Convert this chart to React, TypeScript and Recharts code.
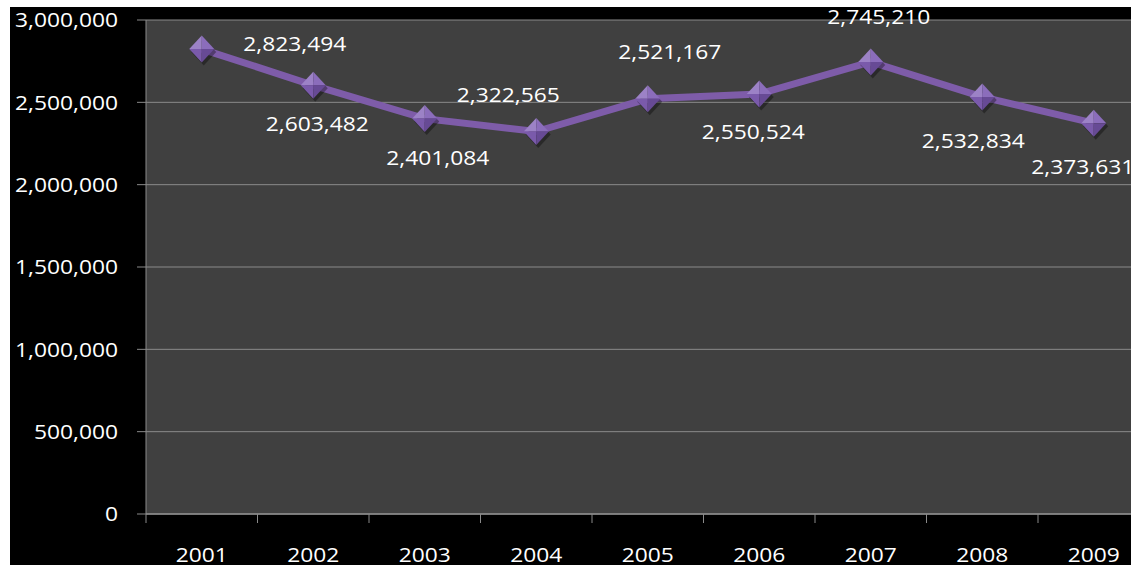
import React from 'react';
import { LineChart, Line, XAxis, YAxis, CartesianGrid, LabelList } from 'recharts';

const years = ['2001', '2002', '2003', '2004', '2005', '2006', '2007', '2008', '2009'];
const visitors = [2823494, 2603482, 2401084, 2322565, 2521167, 2550524, 2745210, 2532834, 2373631];
const yTicks = [0, 500000, 1000000, 1500000, 2000000, 2500000, 3000000];

const data = years.map((year, i) => ({ year, value: visitors[i] }));

// label placement (layout only): offset of label centre from its point
const LABEL_OFFSETS: [number, number][] = [
  [93, -5], [4, 38], [13, 39], [-28, -37], [22, -47], [-6, 38], [8, -45], [-9, 44], [-11, 44],
];

const CHART_W = 1150;
const CHART_H = 558;
const MARGIN = { top: 13, right: 10.5, bottom: 0, left: 10 };
const Y_W = 126;
const X_H = 51;
const PLOT_W = CHART_W - MARGIN.left - MARGIN.right - Y_W;
const HALF_BAND = PLOT_W / years.length / 2;

const FONT = '"Open Sans", sans-serif';
const FS = 20;
const SX = 1.14;
const AXIS_COLOR = '#8a8a8a';

const fmt = (v: number) => v.toLocaleString('en-US');

const YTick = (props: any) => {
  const { x, y, payload } = props;
  return (
    <g transform={`translate(${x},${y})`}>
      <text transform={`scale(${SX},1)`} textAnchor="end" dy="0.36em" fill="#ffffff" fontFamily={FONT} fontSize={FS}>
        {fmt(payload.value)}
      </text>
    </g>
  );
};

const XTick = (props: any) => {
  const { x, y, payload } = props;
  const axisY = 507;
  return (
    <g>
      <line x1={x - HALF_BAND} x2={x - HALF_BAND} y1={axisY} y2={axisY + 9} stroke={AXIS_COLOR} strokeWidth={1} />
      <g transform={`translate(${x},${axisY + 48})`}>
        <text transform={`scale(${SX},1)`} textAnchor="middle" fill="#ffffff" fontFamily={FONT} fontSize={FS}>
          {payload.value}
        </text>
      </g>
    </g>
  );
};

const Diamond = (props: any) => {
  const { cx, cy, index } = props;
  if (cx == null || cy == null) return null;
  const w = 12.5;
  const h = 13.5;
  const L = `${cx - w},${cy}`;
  const R = `${cx + w},${cy}`;
  const T = `${cx},${cy - h}`;
  const B = `${cx},${cy + h}`;
  const C = `${cx},${cy}`;
  return (
    <g key={`d-${index}`}>
      <polygon points={`${cx - w + 2},${cy + 3} ${cx + 2},${cy - h + 3} ${cx + w + 2},${cy + 3} ${cx + 2},${cy + h + 3}`} fill="#000000" opacity={0.35} />
      <polygon points={`${L} ${T} ${C}`} fill="#9c82c6" />
      <polygon points={`${T} ${R} ${C}`} fill="#8b6dbb" />
      <polygon points={`${L} ${B} ${C}`} fill="#7a5aab" />
      <polygon points={`${R} ${B} ${C}`} fill="#674a95" />
    </g>
  );
};

const DataLabel = (props: any) => {
  const { index, value } = props;
  const px = props.x ?? props.viewBox?.x;
  const py = props.y ?? props.viewBox?.y;
  if (px == null || py == null) return null;
  const [dx, dy] = LABEL_OFFSETS[index] || [0, -30];
  return (
    <g transform={`translate(${px + dx},${py + dy})`}>
      <text transform={`scale(${SX},1)`} textAnchor="middle" dy="0.36em" fill="#ffffff" fontFamily={FONT} fontSize={FS}>
        {fmt(Number(value))}
      </text>
    </g>
  );
};

export default function App() {
  return (
    <div
      style={{
        position: 'absolute',
        left: 10,
        top: 7,
        width: 1121,
        height: CHART_H,
        overflow: 'hidden',
        background: '#000000',
      }}
    >
      <LineChart width={CHART_W} height={CHART_H} data={data} margin={MARGIN}>
        <CartesianGrid vertical={false} horizontal stroke={AXIS_COLOR} fill="#404040" />
        <XAxis
          dataKey="year"
          scale="band"
          height={X_H}
          axisLine={{ stroke: AXIS_COLOR, strokeWidth: 1.5 }}
          tickLine={false}
          tick={<XTick />}
          interval={0}
        />
        <YAxis
          width={Y_W}
          domain={[0, 3000000]}
          ticks={yTicks}
          interval={0}
          axisLine={{ stroke: AXIS_COLOR, strokeWidth: 1 }}
          tickLine={{ stroke: AXIS_COLOR }}
          tickSize={9}
          tickMargin={19}
          tick={<YTick />}
        />
        <Line
          type="linear"
          dataKey="value"
          stroke="#7e5ca9"
          strokeWidth={7}
          dot={<Diamond />}
          activeDot={false}
          isAnimationActive={false}
        >
          <LabelList dataKey="value" content={<DataLabel />} />
        </Line>
      </LineChart>
    </div>
  );
}
